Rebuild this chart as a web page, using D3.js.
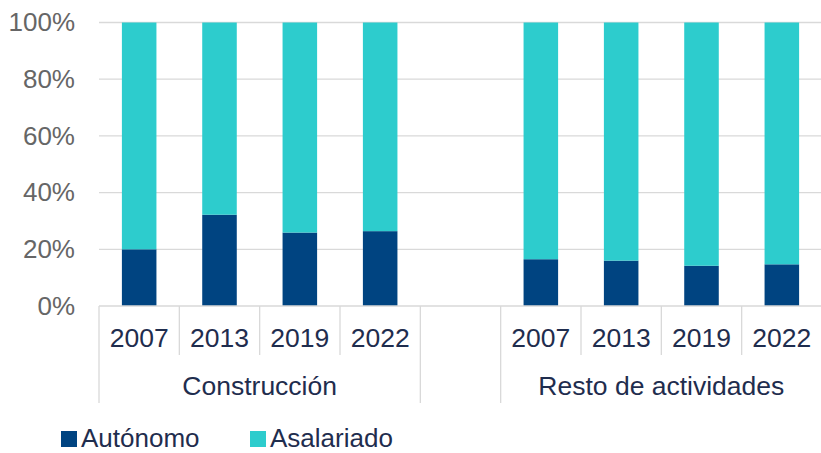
<!DOCTYPE html>
<html>
<head>
<meta charset="utf-8">
<script src="https://cdn.jsdelivr.net/npm/d3@7"></script>
<style>
  html, body { margin: 0; padding: 0; background: #ffffff; }
  svg { display: block; }
  text { font-family: "Liberation Sans", Arial, sans-serif; }
</style>
</head>
<body>
<svg id="chart" width="821" height="453"></svg>
<script>
// ---- Data ----
const groups = ["Construcción", "", "Resto de actividades"];
const years = ["2007", "2013", "2019", "2022"];
const seriesNames = ["Autónomo", "Asalariado"];
const autonomoConstruccion = [20.0, 32.2, 25.9, 26.4];
const asalariadoConstruccion = [80.0, 67.8, 74.1, 73.6];
const autonomoResto = [16.5, 16.0, 14.2, 14.7];
const asalariadoResto = [83.5, 84.0, 85.8, 85.3];
const yTicks = [0, 20, 40, 60, 80, 100];
const colors = ["#004481", "#2dcccd"];

// Build rows (the empty group is a single blank slot)
const rows = [];
years.forEach((y, i) => rows.push({ key: "C" + y, group: groups[0], year: y, "Autónomo": autonomoConstruccion[i], "Asalariado": asalariadoConstruccion[i] }));
rows.push({ key: "gap", group: groups[1], year: "", "Autónomo": 0, "Asalariado": 0, empty: true });
years.forEach((y, i) => rows.push({ key: "R" + y, group: groups[2], year: y, "Autónomo": autonomoResto[i], "Asalariado": asalariadoResto[i] }));

const svg = d3.select("#chart");
const x0 = 99, x1 = 822, yBase = 306, yTop = 22.5;

const x = d3.scaleBand().domain(rows.map(d => d.key)).range([x0, x1])
  .paddingInner(0.57).paddingOuter(0.285);
const y = d3.scaleLinear().domain([0, 100]).range([yBase, yTop]);

// Gridlines
svg.append("g").selectAll("line").data(yTicks.filter(t => t > 0)).join("line")
  .attr("x1", x0).attr("x2", x1 + 5)
  .attr("y1", d => y(d)).attr("y2", d => y(d))
  .attr("stroke", "#d9d9d9").attr("stroke-width", 1.3);

// Y axis labels
const yAxis = d3.axisLeft(y).tickValues(yTicks).tickFormat(d => d + "%").tickSize(0).tickPadding(0);
const gy = svg.append("g").attr("transform", "translate(75,0)").call(yAxis);
gy.select(".domain").remove();
gy.selectAll("text").attr("font-size", 26).attr("fill", "#666666")
  .attr("font-family", "'Liberation Sans', Arial, sans-serif");

// Stacked bars
const stack = d3.stack().keys(seriesNames);
const stacked = stack(rows.filter(d => !d.empty));
svg.append("g").selectAll("g").data(stacked).join("g")
  .attr("fill", (d, i) => colors[i])
  .selectAll("rect").data(d => d).join("rect")
  .attr("x", d => x(d.data.key))
  .attr("width", x.bandwidth())
  .attr("y", d => y(d[1]))
  .attr("height", d => y(d[0]) - y(d[1]));

// X axis line
svg.append("line").attr("x1", x0).attr("x2", x1 + 5).attr("y1", yBase).attr("y2", yBase)
  .attr("stroke", "#d9d9d9").attr("stroke-width", 1.3);

// Separators
const step = x.step();
const shortSeps = [];
const longSeps = [];
let idx = 0;
const groupSpans = [];
groups.forEach(g => {
  const members = rows.filter(r => r.group === g);
  const start = x0 + idx * step;
  const end = start + members.length * step;
  groupSpans.push({ name: g, start, end });
  longSeps.push(start);
  for (let k = 1; k < members.length; k++) shortSeps.push(start + k * step);
  idx += members.length;
});
longSeps.push(x0 + idx * step);

svg.append("g").selectAll("line").data(shortSeps).join("line")
  .attr("x1", d => d).attr("x2", d => d).attr("y1", yBase).attr("y2", 355)
  .attr("stroke", "#d9d9d9").attr("stroke-width", 1.3);
svg.append("g").selectAll("line").data(longSeps).join("line")
  .attr("x1", d => d).attr("x2", d => d).attr("y1", yBase).attr("y2", 403)
  .attr("stroke", "#d9d9d9").attr("stroke-width", 1.3);

// Year labels
svg.append("g").selectAll("text").data(rows.filter(d => !d.empty)).join("text")
  .attr("x", d => x(d.key) + x.bandwidth() / 2)
  .attr("y", 347)
  .attr("text-anchor", "middle")
  .attr("font-size", 26.5).attr("fill", "#1f2d4e")
  .text(d => d.year);

// Group labels
svg.append("g").selectAll("text").data(groupSpans.filter(g => g.name)).join("text")
  .attr("x", d => (d.start + d.end) / 2)
  .attr("y", 394.5)
  .attr("text-anchor", "middle")
  .attr("font-size", 26.5).attr("fill", "#1f2d4e")
  .text(d => d.name);

// Legend
const legendX = [61, 250];
const lg = svg.append("g").selectAll("g").data(seriesNames).join("g")
  .attr("transform", (d, i) => `translate(${legendX[i]},0)`);
lg.append("rect").attr("x", 0).attr("y", 431).attr("width", 16).attr("height", 16)
  .attr("fill", (d, i) => colors[i]);
lg.append("text").attr("x", 20).attr("y", 447)
  .attr("font-size", 26).attr("fill", "#1f2d4e")
  .text(d => d);
</script>
</body>
</html>
